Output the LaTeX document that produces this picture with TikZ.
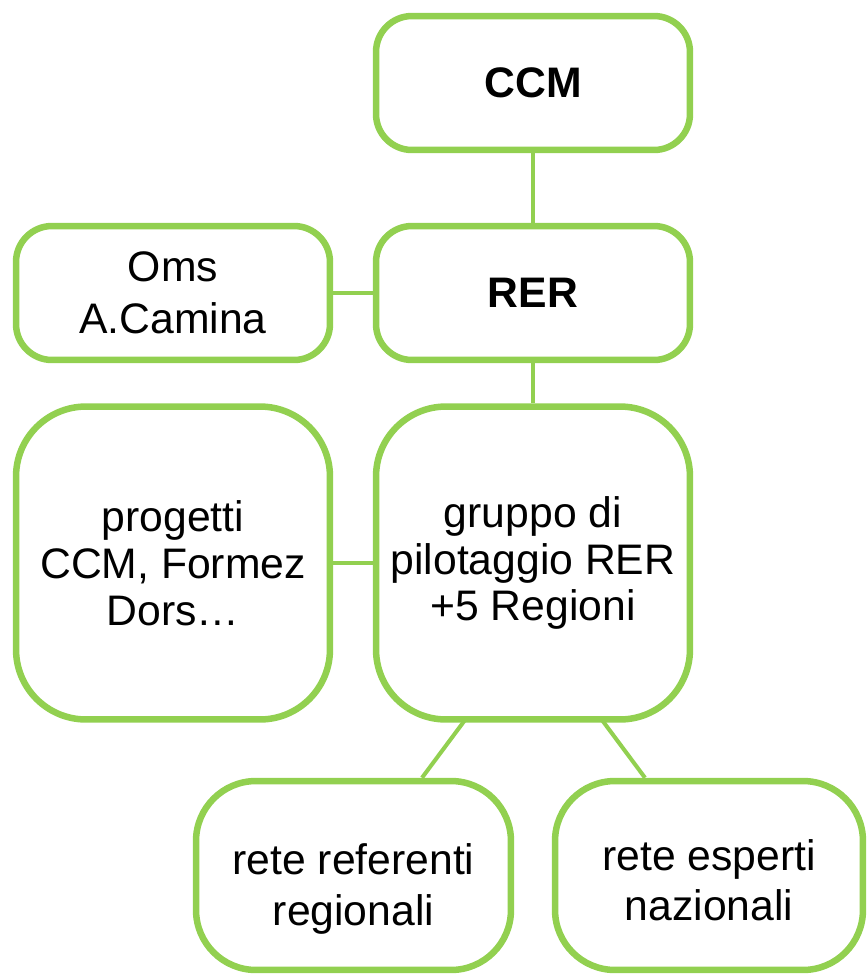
\documentclass[tikz,border=0pt]{standalone}
\usepackage{fontspec}
\setmainfont{Liberation Sans}
\usepackage{xcolor}
\usepackage{tikz}
\usetikzlibrary{positioning}

\definecolor{boxgreen}{HTML}{92D050}

\begin{document}
\begin{tikzpicture}[x=0.02cm, y=-0.02cm,
    orgbox/.style={draw=boxgreen, line width=3.7pt, rounded corners=0.72cm,
      minimum width=6.28cm, minimum height=2.68cm, inner sep=0pt,
      align=center, font=\fontsize{24.3}{29.6}\selectfont},
    bigbox/.style={orgbox, rounded corners=1.4cm, minimum height=6.26cm,
      font=\fontsize{24.3}{26.7}\selectfont},
    lowbox/.style={orgbox, rounded corners=1.2cm, minimum height=3.78cm,
      font=\fontsize{24.3}{28.8}\selectfont},
    link/.style={draw=boxgreen, line width=2.3pt}]
      % Fix the page size
      \useasboundingbox (0,0) rectangle (866,974);
      
      % Top of the chart
      \node[orgbox] (ccm) at (533,83) {\bfseries CCM};
      \node[orgbox] (rer) at (533,293) {\bfseries RER};
      \node[orgbox] (oms) at (173,293) {Oms\\A.Camina};
      
      % Middle row
      \node[bigbox] (gruppo) at (533,563) {gruppo di\\pilotaggio RER\\+5 Regioni};
      \node[bigbox] (progetti) at (173,563) {progetti\\CCM, Formez\\Dors\ldots};
      
      % Bottom row
      \node[lowbox, minimum width=6.3cm, text height=62pt] (referenti) at (353.5,875.5) {rete referenti\\regionali};
      \node[lowbox, minimum width=6.16cm, text height=52pt] (esperti) at (709,875.5) {rete esperti\\nazionali};
      
      % Connectors
      \draw[link] (ccm) -- (rer);
      \draw[link] (rer) -- (gruppo);
      \draw[link] (oms) -- (rer);
      \draw[link] (progetti) -- (gruppo);
      \coordinate (gL) at (465,720);
      \coordinate (gR) at (602,720);
      \draw[link] (gL) -- (referenti.north -| 422,0);
      \draw[link] (gR) -- (esperti.north -| 645,0);
      
    \end{tikzpicture}
\end{document}
